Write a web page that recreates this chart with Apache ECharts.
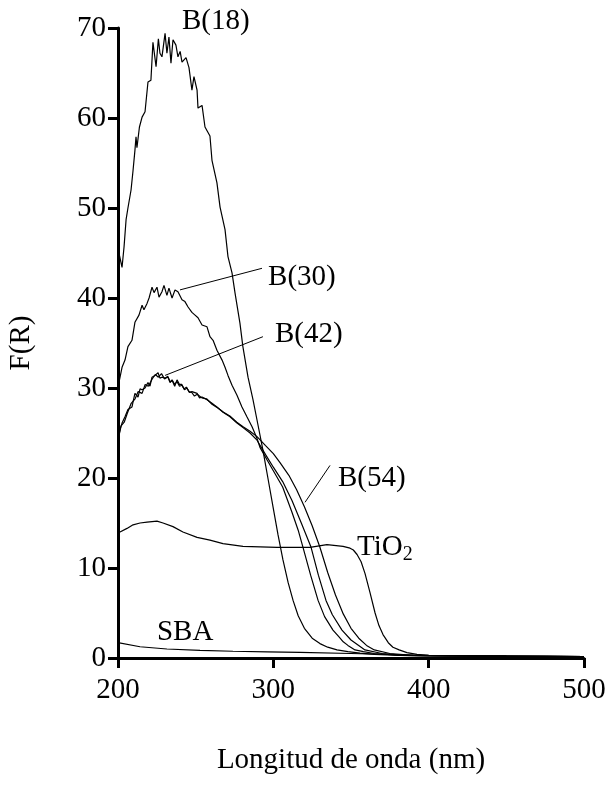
<!DOCTYPE html>
<html>
<head>
<meta charset="utf-8">
<script src="https://cdn.jsdelivr.net/npm/echarts@6/dist/echarts.min.js"></script>
<style>html,body{margin:0;padding:0;background:#fff;}#c{width:607px;height:795px;}</style>
</head>
<body>
<div id="c"></div>
<script>
// ---- data ----
var xTicks = [200, 300, 400, 500];
var yTicks = [0, 10, 20, 30, 40, 50, 60, 70];

var b18X = [200,200.6,202.6,203.9,205.2,206.4,208.4,209.7,210.9,211.6,212.2,213.8,215.5,217.4,219.3,221.2,222.5,224.5,226,227,228.3,230.3,231.5,232.8,234.1,235.4,237.3,238.6,240,241.2,243.8,245.7,247.6,248.9,250.9,251.5,254.1,256,259.2,260.5,263.7,265.7,268.9,270.8,273.4,275.3,278.5,280.4,283.7,286.9,290,293.3,296.5,299.8,303,306.2,309.5,312.7,316,320,325,330,335,341,348,355.8,365,381.5,400,450,500];
var b18Y = [43.3,45,43.4,45.7,48.7,50,52,54.2,56.4,57.9,56.7,59,60.1,60.7,64,64.2,68.4,65.7,68.8,67.2,66.8,69.4,67.2,69,66.1,68.7,68.1,66.8,67.4,66.2,66.7,65.6,63.1,64.6,63.1,61.1,61.4,59,58,55.3,52.8,50.1,47.6,44.6,42.8,40.6,37.2,34.6,31.2,28.7,26,23.1,20,16.8,13.7,10.9,8.4,6.4,4.7,3.3,2.2,1.6,1.2,0.9,0.7,0.55,0.4,0.3,0.22,0.18,0.15];

var b30X = [200,202.6,204.5,206.4,209,210.9,213.5,215.5,216.7,218.7,220,221.9,223.2,225.1,226.4,228.3,229.6,231.5,232.8,234.8,236.7,238.6,241.2,243.1,245.1,247.6,249.6,251.5,254.1,257.3,259.2,261.2,263.7,267,268.9,270.8,273.4,276.6,279.8,283,286.3,289.5,291.4,296,300,306,312,316,319.1,324,328.8,333,338.4,342,345,348,352.6,358,365,381.5,400,450,500];
var b30Y = [30.1,32.3,33.1,34.6,35.3,37.3,38.1,39.2,38.7,39.4,40,41.2,40.6,41.2,40.1,40.7,41.4,40.3,41.1,40,40.9,40.7,39.8,39.6,39,38.4,38.1,37.8,37,36.8,35.7,35.3,34.2,33.1,32.3,31.4,30.3,29.2,27.9,26.8,25.7,24.4,23.4,22,20.8,19,16.2,14.2,12.3,9.2,6.4,4.6,3.1,2.4,1.8,1.4,0.9,0.7,0.5,0.3,0.25,0.2,0.15];

var b42X = [200,201.3,202.6,204.5,206.4,209,210.9,212.9,214.2,215.5,217.4,219.3,220.6,221.9,223.8,225.8,227,228.3,230.3,232.2,233.5,234.8,236.4,238,239.6,241.2,242.8,244.4,246,247.6,250.9,252.5,254.1,257.3,260.5,263.7,267.6,272.1,276.6,280.5,285,289.5,295,300,306,312,318,324.3,329,333.9,338,344.2,350,359,370,385,400,450,500];
var b42Y = [24.2,25.4,26.1,26.8,27.6,27.9,29.4,29,29.9,29.8,30,30.6,30.2,31.2,31.4,31.7,31.1,31.2,31.1,31.2,30.6,30.9,30.4,30.7,30.2,30.3,29.8,30,29.5,29.6,29.4,28.9,29,28.7,28.3,27.9,27.3,26.8,26.1,25.6,25,24.2,22.6,21.2,19.6,17.5,15,12.3,9.2,6.4,4.8,3.1,2,0.9,0.5,0.3,0.25,0.2,0.15];

var b54X = [200,201,202,204,206,208.5,211,213,215.5,217.5,219.5,222,224,226,228,230,232,233.6,235,236.5,238,239.5,241,242.5,244,245.7,247.5,249.2,251,254,257,260.5,264,268,272,276.5,280.5,285,289.5,295,300,304.3,310,315,320,325,330,335,340,345,350,355,360,365,375,390,400,450,500];
var b54Y = [24.5,25,25.8,26.2,27.2,28.3,28.8,29.6,29.4,30.4,30.2,31,31.5,31.2,31.6,31,31.3,30.7,30.8,30.2,30.9,30.4,30.4,29.9,30.1,29.6,29.5,29.1,29.3,28.9,28.8,28.2,27.8,27.3,26.9,26.2,25.7,25.2,24.6,23.6,22.7,21.7,20.3,18.7,16.8,14.7,12.3,9.5,7,4.9,3.3,2.2,1.4,0.9,0.5,0.3,0.25,0.2,0.15];

var tioX = [200,201.3,205.8,209.7,214.2,218.7,225.1,229,235.4,241.8,250.9,259.2,267.6,280.5,302.4,315.2,323.6,334.5,344.9,349.4,351.5,353.9,356.5,359,362.2,365.5,368,370.6,374,377,381,386,392.5,400,450,500];
var tioY = [13.9,14,14.4,14.8,15,15.1,15.2,15,14.6,14,13.4,13.1,12.7,12.4,12.3,12.3,12.3,12.6,12.4,12.2,12.0,11.5,10.7,9.4,7.3,5.0,3.6,2.6,1.7,1.2,0.9,0.6,0.4,0.3,0.2,0.15];

var sbaX = [200,214.2,231.5,252.8,274,296,317.2,350,400,450,500];
var sbaY = [1.7,1.25,1.0,0.85,0.75,0.68,0.62,0.5,0.3,0.2,0.15];

var seriesNames = ['B(18)', 'B(30)', 'B(42)', 'B(54)', 'TiO2', 'SBA'];
var seriesX = [b18X, b30X, b42X, b54X, tioX, sbaX];
var seriesY = [b18Y, b30Y, b42Y, b54Y, tioY, sbaY];

// annotations (data coordinates)
var labelTexts = ['B(18)', 'B(30)', 'B(42)', 'B(54)', 'TiO{sub|2}', 'SBA'];
var labelAt = [[241.2, 70.7], [296.6, 42.3], [301, 36], [341.6, 20], [353.9, 12.3], [225.1, 2.9]];
var pointers = [
  [[239.9, 40.9], [292.7, 43.3]],
  [[230.3, 31.4], [293.3, 35.7]],
  [[320.4, 17.3], [336.5, 21.4]]
];

var FONT = '"Liberation Serif", "DejaVu Serif", serif';

function pairs(xs, ys) {
  var out = [];
  for (var i = 0; i < xs.length; i++) out.push([xs[i], ys[i]]);
  return out;
}

var chart = echarts.init(document.getElementById('c'), null, {renderer: 'canvas'});
var series = seriesNames.map(function (n, i) {
  return {
    name: n, type: 'line', data: pairs(seriesX[i], seriesY[i]),
    showSymbol: false, symbol: 'none', smooth: false,
    lineStyle: {color: '#000', width: 1.2}, animation: false, z: 3
  };
});

chart.setOption({
  animation: false,
  backgroundColor: '#fff',
  grid: {left: 118, right: 23, top: 28, bottom: 137, containLabel: false, outerBoundsMode: 'none'},
  xAxis: {
    type: 'value', min: 200, max: 500, interval: 100,
    name: 'Longitud de onda (nm)', nameLocation: 'middle', nameGap: 88,
    nameTextStyle: {fontFamily: FONT, fontSize: 29, color: '#000'},
    axisLine: {show: true, onZero: false, lineStyle: {color: '#000', width: 3}},
    axisTick: {show: true, inside: false, length: 10, lineStyle: {color: '#000', width: 3}},
    axisLabel: {fontFamily: FONT, fontSize: 29, color: '#000', margin: 18,
      formatter: function (v) { return xTicks.indexOf(v) >= 0 ? String(v) : ''; }},
    splitLine: {show: false}
  },
  yAxis: {
    type: 'value', min: 0, max: 70, interval: 10,
    name: 'F(R)', nameLocation: 'middle', nameGap: 82, nameRotate: 90,
    nameTextStyle: {fontFamily: FONT, fontSize: 29, color: '#000'},
    axisLine: {show: true, onZero: false, lineStyle: {color: '#000', width: 3}},
    axisTick: {show: true, inside: false, length: 10, lineStyle: {color: '#000', width: 3}},
    axisLabel: {fontFamily: FONT, fontSize: 29, color: '#000', margin: 12,
      formatter: function (v) { return yTicks.indexOf(v) >= 0 ? String(v) : ''; }},
    splitLine: {show: false}
  },
  series: series
});

// annotations via pixel conversion of data coordinates
var g = [];
pointers.forEach(function (p) {
  var a = chart.convertToPixel({gridIndex: 0}, p[0]);
  var b = chart.convertToPixel({gridIndex: 0}, p[1]);
  g.push({type: 'line', shape: {x1: a[0], y1: a[1], x2: b[0], y2: b[1]},
    style: {stroke: '#000', lineWidth: 1}, z: 10});
});
labelTexts.forEach(function (t, i) {
  var p = chart.convertToPixel({gridIndex: 0}, labelAt[i]);
  g.push({type: 'text', x: p[0], y: p[1], z: 10,
    style: {text: t, fontFamily: FONT, fontSize: 29, fill: '#000',
      textAlign: 'left', textVerticalAlign: 'middle',
      rich: {sub: {fontFamily: FONT, fontSize: 20, fill: '#000', padding: [14, 0, 0, 0]}}}});
});
chart.setOption({graphic: g});
</script>
</body>
</html>
